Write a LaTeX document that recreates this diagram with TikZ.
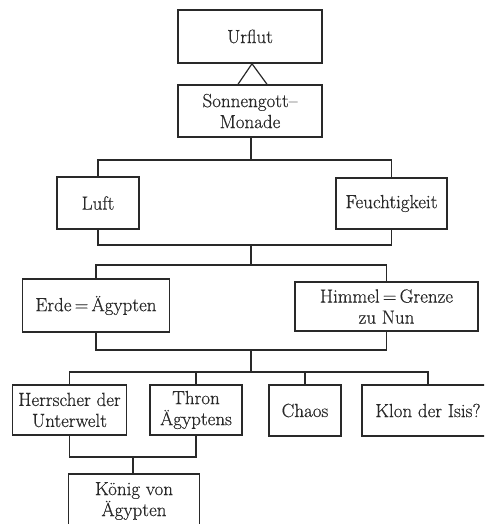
\documentclass[tikz,border=0pt]{standalone}
\usepackage{fontspec}
\setmainfont{Latin Modern Roman}[FakeBold=0.5]
\usetikzlibrary{calc}
\definecolor{ink}{gray}{0.16}
\begin{document}
\begin{tikzpicture}[x=1pt,y=-1pt,
  box/.style={draw=ink, line width=1.5pt, rectangle, align=center, inner sep=1pt,
    text=ink, font=\fontsize{19}{21}\selectfont},
  link/.style={draw=ink, line width=1.2pt}]
\useasboundingbox (0,0) rectangle (484,524);
\clip (0,0) rectangle (484,524);

% boxes
\node[box, minimum width=144, minimum height=53] (urflut) at (250,36.5) {Urflut};
\node[box, minimum width=144, minimum height=52] (sonne) at (250,111) {Sonnengott–\\Monade};
\node[box, minimum width=82, minimum height=52] (luft) at (98,203) {Luft};
\node[box, minimum width=111, minimum height=51] (feucht) at (391.5,203.5) {Feuchtigkeit};
\node[box, minimum width=147, minimum height=53] (erde) at (96,305.5) {Erde\,=\,Ägypten};
\node[box, minimum width=183, minimum height=49] (himmel) at (386.5,306.5) {Himmel\,=\,Grenze\\zu Nun};
\node[box, minimum width=114, minimum height=50] (herr) at (69.5,410) {Herrscher der\\Unterwelt};
\node[box, minimum width=92, minimum height=50] (thron) at (196,410) {Thron\\Ägyptens};
\node[box, minimum width=72, minimum height=51] (chaos) at (305,410.5) {Chaos};
\node[box, minimum width=132, minimum height=51] (klon) at (428,410.5) {Klon der Isis?};
\node[box, minimum width=131, minimum height=54] (koenig) at (134,501) {König von\\Ägypten};

% junction points
\coordinate (j1) at (251,160);
\coordinate (j2) at (251,245);
\coordinate (j3) at (251,265);
\coordinate (j4) at (251,350);
\coordinate (j5) at (251,372);
\coordinate (j6) at (133,457);

% triangle between the first two boxes
\draw[link] ($(sonne.north)+(-12,0)$) -- ($(urflut.south)+(2,0)$) -- ($(sonne.north)+(17,0)$);

% connectors
\draw[link] (sonne.south -| j1) -- (j1);
\draw[link] (luft.north) |- (j1) -| (feucht.north);
\draw[link] (luft.south) |- (j2) -| (feucht.south);
\draw[link] (j2) -- (j3);
\draw[link] (erde.north) |- (j3) -| (himmel.north);
\draw[link] (erde.south) |- (j4) -| (himmel.south);
\draw[link] (j4) -- (j5);
\draw[link] (herr.north) |- (j5) -| (klon.north);
\draw[link] (thron.north) -- (thron.north |- j5);
\draw[link] (chaos.north) -- (chaos.north |- j5);
\draw[link] (herr.south) |- (j6) -| (thron.south);
\draw[link] (j6) -- (j6 |- koenig.north);
\end{tikzpicture}
\end{document}
